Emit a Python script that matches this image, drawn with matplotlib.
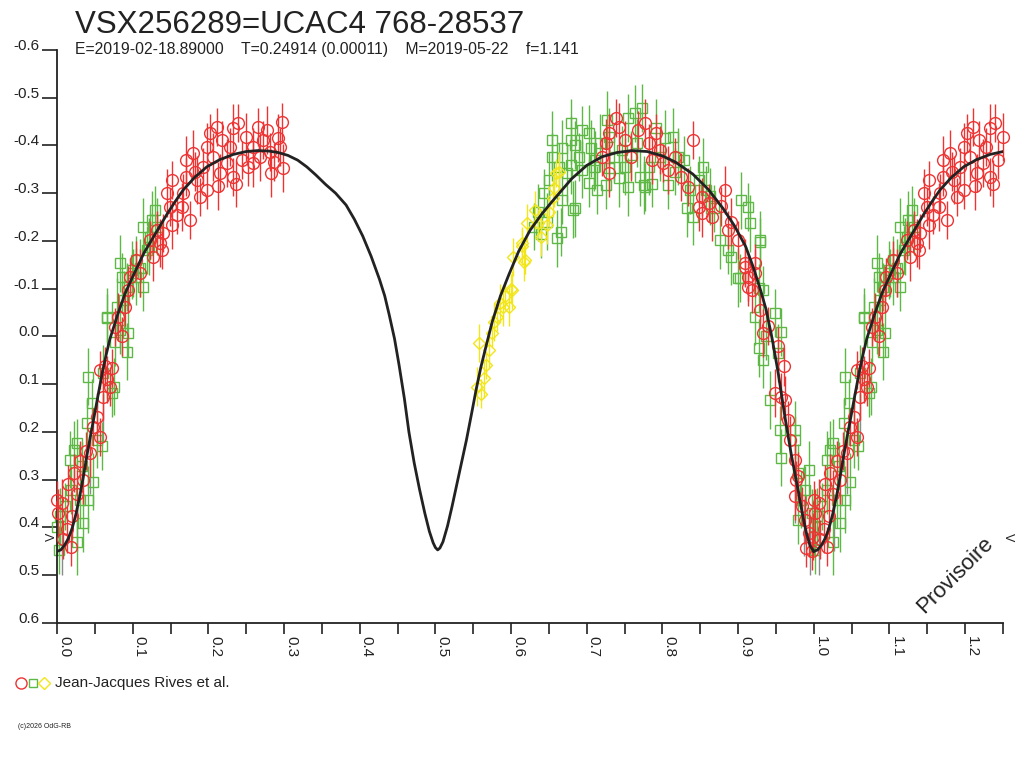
import numpy as np
import matplotlib
matplotlib.use("Agg")
import matplotlib.pyplot as plt
from matplotlib.lines import Line2D
import matplotlib.transforms as mtransforms

plt.rcParams['font.family'] = ['Liberation Sans', 'DejaVu Sans']

# --- data (one cycle, phase 0..1; phases <= 0.25 are repeated at +1 like the original) ---
red_phase = [0.000, 0.001, 0.007, 0.008, 0.013, 0.015, 0.018, 0.020, 0.022, 0.026, 0.030, 0.034,
             0.038, 0.044, 0.048, 0.053, 0.057, 0.057, 0.061, 0.064, 0.066, 0.070, 0.073, 0.077,
             0.081, 0.086, 0.090, 0.094, 0.096, 0.105, 0.110, 0.123, 0.127, 0.132, 0.136, 0.139,
             0.140, 0.145, 0.149, 0.152, 0.152, 0.158, 0.165, 0.167, 0.171, 0.171, 0.176, 0.180,
             0.182, 0.185, 0.189, 0.193, 0.198, 0.198, 0.202, 0.206, 0.211, 0.213, 0.215, 0.218,
             0.224, 0.228, 0.233, 0.233, 0.237, 0.239, 0.244, 0.250, 0.252, 0.259, 0.259, 0.266,
             0.268, 0.272, 0.277, 0.281, 0.283, 0.287, 0.292, 0.295, 0.297, 0.299,
             0.720, 0.725, 0.729, 0.729, 0.738, 0.742, 0.751, 0.759, 0.768, 0.777, 0.782, 0.786,
             0.791, 0.797, 0.801, 0.808, 0.817, 0.825, 0.834, 0.841, 0.848, 0.852, 0.852, 0.861,
             0.865, 0.878, 0.883, 0.887, 0.891, 0.900, 0.909, 0.909, 0.913, 0.913, 0.918, 0.922,
             0.922, 0.929, 0.933, 0.940, 0.949, 0.953, 0.957, 0.960, 0.962, 0.966, 0.969, 0.975,
             0.975, 0.977, 0.979, 0.985, 0.989, 0.990, 0.993, 0.997, 0.999]
red_mag = [0.342, 0.369, 0.348, 0.425, 0.404, 0.310, 0.440, 0.375, 0.286, 0.330, 0.260, 0.300,
           0.240, 0.244, 0.190, 0.168, 0.210, 0.070, 0.126, 0.063, 0.090, 0.105, 0.066, -0.020,
           -0.041, 0.000, -0.062, -0.098, -0.125, -0.160, -0.133, -0.202, -0.167, -0.223, -0.195, -0.181,
           -0.216, -0.300, -0.271, -0.327, -0.233, -0.254, -0.271, -0.300, -0.334, -0.369, -0.244, -0.383,
           -0.345, -0.327, -0.292, -0.355, -0.397, -0.307, -0.425, -0.376, -0.439, -0.315, -0.342, -0.411,
           -0.363, -0.397, -0.436, -0.334, -0.320, -0.447, -0.369, -0.418, -0.355, -0.397, -0.363, -0.439,
           -0.376, -0.411, -0.432, -0.386, -0.342, -0.365, -0.415, -0.397, -0.449, -0.352,
           -0.376, -0.405, -0.426, -0.342, -0.457, -0.439, -0.411, -0.376, -0.432, -0.447, -0.405, -0.369,
           -0.425, -0.390, -0.363, -0.349, -0.376, -0.334, -0.313, -0.411, -0.270, -0.292, -0.258, -0.279,
           -0.250, -0.272, -0.307, -0.223, -0.240, -0.202, -0.154, -0.146, -0.125, -0.104, -0.098, -0.154,
           -0.132, -0.056, -0.007, -0.021, 0.119, 0.021, 0.126, 0.063, 0.133, 0.175, 0.216, 0.258,
           0.335, 0.300, 0.293, 0.356, 0.384, 0.442, 0.411, 0.450, 0.419]
red_err = [0.04, 0.05, 0.05, 0.04, 0.05, 0.04, 0.04, 0.05, 0.04, 0.05, 0.04, 0.05,
           0.04, 0.05, 0.04, 0.05, 0.04, 0.04, 0.05, 0.04, 0.05, 0.04, 0.04, 0.04,
           0.05, 0.04, 0.04, 0.05, 0.04, 0.04, 0.05, 0.04, 0.05, 0.04, 0.05, 0.04,
           0.04, 0.05, 0.04, 0.04, 0.05, 0.04, 0.05, 0.04, 0.04, 0.05, 0.04, 0.05,
           0.04, 0.05, 0.04, 0.04, 0.05, 0.04, 0.04, 0.05, 0.04, 0.05, 0.04, 0.04,
           0.05, 0.04, 0.05, 0.04, 0.05, 0.04, 0.04, 0.05, 0.04, 0.04, 0.05, 0.04,
           0.05, 0.04, 0.05, 0.04, 0.05, 0.04, 0.05, 0.04, 0.04, 0.05,
           0.04, 0.05, 0.04, 0.05, 0.04, 0.05, 0.04, 0.05, 0.04, 0.05, 0.04, 0.05,
           0.04, 0.05, 0.04, 0.05, 0.04, 0.05, 0.04, 0.04, 0.05, 0.04, 0.05, 0.04,
           0.05, 0.04, 0.05, 0.04, 0.05, 0.04, 0.05, 0.04, 0.05, 0.04, 0.05, 0.04,
           0.05, 0.04, 0.05, 0.04, 0.05, 0.04, 0.05, 0.04, 0.05, 0.04, 0.05, 0.04,
           0.05, 0.04, 0.05, 0.04, 0.05, 0.04, 0.05, 0.04, 0.05]

green_phase = [0.000, 0.002, 0.004, 0.011, 0.017, 0.018, 0.022, 0.026, 0.026, 0.031, 0.033, 0.035,
               0.040, 0.041, 0.041, 0.046, 0.048, 0.053, 0.059, 0.061, 0.066, 0.066, 0.073, 0.075,
               0.077, 0.079, 0.083, 0.083, 0.086, 0.088, 0.092, 0.092, 0.094, 0.099, 0.101, 0.105,
               0.105, 0.110, 0.114, 0.114, 0.119, 0.121, 0.123, 0.125, 0.130, 0.132,
               0.630, 0.636, 0.640, 0.643, 0.647, 0.650, 0.654, 0.654, 0.661, 0.663, 0.666, 0.667,
               0.667, 0.674, 0.679, 0.679, 0.679, 0.682, 0.685, 0.685, 0.690, 0.694, 0.694, 0.703,
               0.703, 0.705, 0.709, 0.711, 0.713, 0.718, 0.725, 0.727, 0.729, 0.729, 0.736, 0.742,
               0.746, 0.751, 0.755, 0.755, 0.758, 0.764, 0.766, 0.771, 0.773, 0.775, 0.777, 0.782,
               0.786, 0.792, 0.797, 0.804, 0.808, 0.814, 0.817, 0.821, 0.828, 0.832, 0.837, 0.841,
               0.848, 0.854, 0.857, 0.863, 0.868, 0.876, 0.887, 0.891, 0.900, 0.903, 0.904, 0.913,
               0.916, 0.922, 0.927, 0.927, 0.929, 0.929, 0.933, 0.933, 0.937, 0.942, 0.949, 0.953,
               0.955, 0.957, 0.957, 0.975, 0.975, 0.979, 0.979, 0.983, 0.989, 0.993, 0.997]
green_mag = [0.398, 0.447, 0.377, 0.356, 0.258, 0.321, 0.237, 0.223, 0.430, 0.342, 0.272, 0.391,
             0.181, 0.342, 0.084, 0.140, 0.304, 0.216, 0.230, 0.077, -0.038, -0.041, 0.119, 0.105,
             0.011, -0.062, -0.014, -0.153, -0.125, -0.077, 0.032, -0.104, -0.007, -0.139, -0.132, -0.125,
             -0.160, -0.143, -0.104, -0.230, -0.181, -0.188, -0.209, -0.244, -0.265, -0.230,
             -0.230, -0.260, -0.215, -0.300, -0.240, -0.327, -0.376, -0.411, -0.205, -0.355, -0.219, -0.394,
             -0.285, -0.342, -0.411, -0.359, -0.447, -0.265, -0.400, -0.268, -0.376, -0.349, -0.432, -0.425,
             -0.321, -0.394, -0.355, -0.369, -0.307, -0.405, -0.317, -0.453, -0.352, -0.418, -0.376, -0.331,
             -0.390, -0.355, -0.457, -0.313, -0.380, -0.467, -0.405, -0.334, -0.478, -0.317, -0.313, -0.355,
             -0.320, -0.436, -0.376, -0.415, -0.317, -0.418, -0.345, -0.376, -0.369, -0.268, -0.307, -0.251,
             -0.327, -0.355, -0.307, -0.293, -0.268, -0.202, -0.181, -0.167, -0.122, -0.122, -0.285, -0.271,
             -0.237, -0.041, -0.101, 0.024, -0.198, -0.202, -0.098, 0.049, 0.000, 0.133, -0.049, 0.035,
             0.196, 0.254, -0.010, 0.196, 0.216, 0.286, 0.384, 0.342, 0.321, 0.279, 0.370]
green_err = [0.06, 0.05, 0.06, 0.05, 0.06, 0.05, 0.06, 0.05, 0.07, 0.06, 0.05, 0.06,
             0.05, 0.07, 0.06, 0.05, 0.06, 0.06, 0.05, 0.06, 0.05, 0.06, 0.05, 0.06,
             0.05, 0.06, 0.05, 0.06, 0.05, 0.06, 0.06, 0.05, 0.05, 0.06, 0.05, 0.06,
             0.05, 0.06, 0.05, 0.06, 0.05, 0.06, 0.05, 0.06, 0.05, 0.06,
             0.05, 0.06, 0.05, 0.05, 0.06, 0.06, 0.05, 0.06, 0.06, 0.05, 0.05, 0.06,
             0.05, 0.06, 0.05, 0.06, 0.05, 0.06, 0.05, 0.06, 0.05, 0.06, 0.05, 0.06,
             0.05, 0.06, 0.05, 0.06, 0.05, 0.06, 0.05, 0.06, 0.05, 0.06, 0.05, 0.06,
             0.05, 0.06, 0.05, 0.06, 0.05, 0.06, 0.05, 0.06, 0.05, 0.06, 0.05, 0.06,
             0.05, 0.06, 0.05, 0.06, 0.05, 0.06, 0.05, 0.06, 0.05, 0.06, 0.05, 0.06,
             0.05, 0.06, 0.05, 0.06, 0.05, 0.06, 0.05, 0.06, 0.06, 0.05, 0.06, 0.05,
             0.06, 0.06, 0.05, 0.06, 0.05, 0.06, 0.05, 0.06, 0.05, 0.06, 0.05, 0.06,
             0.05, 0.06, 0.05, 0.06, 0.05, 0.06, 0.05, 0.06, 0.05, 0.06, 0.05]

yellow_phase = [0.555, 0.558, 0.560, 0.564, 0.567, 0.571, 0.575, 0.578, 0.582, 0.586, 0.589, 0.592,
                0.597, 0.600, 0.601, 0.602, 0.614, 0.615, 0.617, 0.619, 0.621, 0.631, 0.635, 0.639,
                0.647, 0.650, 0.655, 0.657, 0.659, 0.663]
yellow_mag = [0.105, 0.014, 0.120, 0.088, 0.060, 0.029, -0.007, -0.030, -0.041, -0.070, -0.062, -0.085,
              -0.062, -0.100, -0.097, -0.167, -0.195, -0.190, -0.156, -0.160, -0.237, -0.265, -0.237, -0.209,
              -0.234, -0.260, -0.290, -0.310, -0.342, -0.345]
yellow_err = [0.04, 0.04, 0.03, 0.04, 0.03, 0.04, 0.03, 0.04, 0.03, 0.04, 0.04, 0.03,
              0.04, 0.03, 0.04, 0.04, 0.03, 0.04, 0.04, 0.03, 0.04, 0.04, 0.03, 0.04,
              0.04, 0.03, 0.04, 0.04, 0.03, 0.04]

gray_phase = [0.007, 0.027, 0.044, 0.061, 0.975, 0.987, 0.995]
gray_mag = [0.450, 0.390, 0.270, 0.170, 0.330, 0.400, 0.440]
gray_err = [0.05, 0.06, 0.06, 0.05, 0.06, 0.06, 0.06]

curve_phase = [0.000, 0.005, 0.010, 0.015, 0.020, 0.025, 0.030, 0.035, 0.040, 0.045, 0.050, 0.055,
               0.060, 0.065, 0.070, 0.080, 0.090, 0.100, 0.115, 0.130, 0.145, 0.156, 0.167, 0.182,
               0.198, 0.215, 0.233, 0.250, 0.265, 0.280, 0.292, 0.305, 0.318, 0.330, 0.342, 0.355,
               0.368, 0.382, 0.393, 0.404, 0.415, 0.426, 0.433, 0.439, 0.446, 0.452, 0.459, 0.465,
               0.472, 0.479, 0.486, 0.492, 0.497, 0.500, 0.503, 0.506, 0.510, 0.516, 0.522, 0.531,
               0.541, 0.548, 0.554, 0.560, 0.567, 0.575, 0.586, 0.597, 0.610, 0.625, 0.640, 0.654,
               0.667, 0.680, 0.700, 0.720, 0.740, 0.760, 0.780, 0.800, 0.817, 0.840, 0.861, 0.880,
               0.895, 0.910, 0.920, 0.930, 0.937, 0.945, 0.953, 0.962, 0.970, 0.979, 0.985, 0.990,
               0.995, 1.000]
curve_mag = [0.450, 0.447, 0.437, 0.423, 0.402, 0.372, 0.335, 0.292, 0.245, 0.202, 0.160, 0.117,
             0.075, 0.038, 0.005, -0.045, -0.090, -0.125, -0.175, -0.215, -0.255, -0.282, -0.307, -0.333,
             -0.355, -0.370, -0.381, -0.387, -0.389, -0.388, -0.385, -0.379, -0.369, -0.355, -0.338, -0.318,
             -0.300, -0.275, -0.245, -0.210, -0.168, -0.120, -0.085, -0.045, 0.005, 0.060, 0.130, 0.200,
             0.265, 0.320, 0.370, 0.408, 0.432, 0.442, 0.447, 0.443, 0.430, 0.397, 0.356, 0.290,
             0.217, 0.160, 0.110, 0.065, 0.020, -0.030, -0.085, -0.129, -0.178, -0.222, -0.255, -0.282,
             -0.306, -0.330, -0.358, -0.376, -0.385, -0.389, -0.387, -0.378, -0.365, -0.340, -0.307, -0.268,
             -0.232, -0.188, -0.145, -0.095, -0.056, 0.005, 0.077, 0.170, 0.245, 0.320, 0.372, 0.410,
             0.438, 0.450]

x_ticks = [0.0, 0.1, 0.2, 0.3, 0.4, 0.5, 0.6, 0.7, 0.8, 0.9, 1.0, 1.1, 1.2]
y_ticks = [-0.6, -0.5, -0.4, -0.3, -0.2, -0.1, 0.0, 0.1, 0.2, 0.3, 0.4, 0.5, 0.6]

RED = '#ee3333'
GREEN = '#5db845'
YELLOW = '#f2e61a'
GRAY = '#8a8a8a'
INK = '#222222'


def fold(ph, mg, er):
    ph, mg, er = np.array(ph), np.array(mg), np.array(er)
    m = ph <= 0.25
    return (np.concatenate([ph, ph[m] + 1]), np.concatenate([mg, mg[m]]),
            np.concatenate([er, er[m]]))


fig = plt.figure(figsize=(10.24, 7.68), dpi=100)
ax = fig.add_axes([57 / 1024, 1 - 623 / 768, (1003 - 57) / 1024, (623 - 49.8) / 768])
ax.set_xlim(0, 1.25)
ax.set_ylim(0.6, -0.6)

x, y, e = fold(gray_phase, gray_mag, gray_err)
ax.errorbar(x, y, yerr=e, fmt='none', ecolor=GRAY, elinewidth=1, capsize=0, zorder=1)

x, y, e = fold(green_phase, green_mag, green_err)
ax.errorbar(x, y, yerr=e, fmt='s', ms=7, mfc='none', mec=GREEN, mew=1,
            ecolor=GREEN, elinewidth=1, capsize=0, zorder=2, clip_on=False)

x, y, e = fold(red_phase, red_mag, red_err)
ax.errorbar(x, y, yerr=e, fmt='o', ms=8.5, mfc='none', mec=RED, mew=1,
            ecolor=RED, elinewidth=1, capsize=0, zorder=3, clip_on=False)

x, y, e = fold(yellow_phase, yellow_mag, yellow_err)
ax.errorbar(x, y, yerr=e, fmt='D', ms=6.5, mfc='none', mec=YELLOW, mew=1,
            ecolor=YELLOW, elinewidth=1, capsize=0, zorder=3)

cp = np.array(curve_phase)
cm = np.array(curve_mag)
ax.plot(cp, cm, color=INK, lw=2, zorder=5)
ax.plot(cp + 1, cm, color=INK, lw=2, zorder=5)

# axes styling
for s in ['top', 'right']:
    ax.spines[s].set_visible(False)
for s in ['left', 'bottom']:
    ax.spines[s].set_linewidth(1.3)
    ax.spines[s].set_color(INK)

ax.set_yticks(y_ticks)
ax.set_yticklabels([f"{abs(v):.1f}" if abs(v) < 1e-9 else f"{v:.1f}" for v in y_ticks])
ax.tick_params(axis='y', direction='out', length=11, width=1.2, labelsize=11,
               pad=1.5, colors=INK)
shift = mtransforms.ScaledTranslation(0, 4 / 72, fig.dpi_scale_trans)
for lab in ax.get_yticklabels():
    lab.set_transform(lab.get_transform() + shift)

ax.set_xticks(x_ticks)
ax.set_xticks(np.arange(0.05, 1.26, 0.1), minor=True)
ax.set_xticklabels([f"{v:.1f}" for v in x_ticks], rotation=-90, ha='left', va='top')
ax.tick_params(axis='x', which='both', direction='out', length=8, width=1.2,
               labelsize=11, pad=1, colors=INK)

# texts
fig.text(75 / 1024, 1 - 33 / 768, "VSX256289=UCAC4 768-28537", fontsize=22.5, color=INK,
         va='baseline', ha='left')
fig.text(75 / 1024, 1 - 54 / 768,
         "E=2019-02-18.89000    T=0.24914 (0.00011)    M=2019-05-22    f=1.141",
         fontsize=11.3, color=INK, va='baseline', ha='left')
fig.text(955 / 1024, 1 - 575 / 768, "Provisoire", rotation=45, fontsize=16, color=INK,
         ha='center', va='center')
fig.text(52 / 1024, 1 - 537 / 768, "V", rotation=90, fontsize=9, color=INK,
         ha='center', va='center')
fig.text(1008 / 1024, 1 - 537 / 768, "V", rotation=-90, fontsize=9, color=INK,
         ha='center', va='center')

# legend
fig.add_artist(Line2D([21 / 1024], [1 - 683 / 768], marker='o', ms=8, mfc='none', mec=RED,
                      mew=1, transform=fig.transFigure))
fig.add_artist(Line2D([33 / 1024], [1 - 683 / 768], marker='s', ms=6, mfc='none', mec=GREEN,
                      mew=1, transform=fig.transFigure))
fig.add_artist(Line2D([44 / 1024], [1 - 683 / 768], marker='D', ms=6, mfc='none', mec=YELLOW,
                      mew=1, transform=fig.transFigure))
fig.text(55 / 1024, 1 - 683 / 768, "Jean-Jacques Rives et al.", fontsize=11, color=INK,
         va='center', ha='left')
fig.text(18 / 1024, 1 - 726 / 768, "(c)2026 OdG-RB", fontsize=5, color=INK,
         va='center', ha='left')

fig.savefig("out.png", dpi=100, facecolor='white')
